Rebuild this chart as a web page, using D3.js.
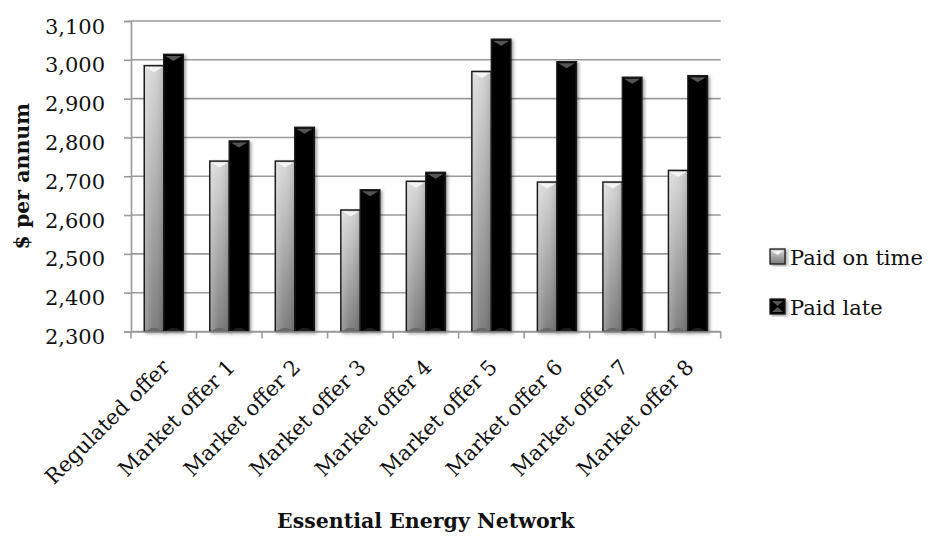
<!DOCTYPE html>
<html><head><meta charset="utf-8">
<script src="https://cdn.jsdelivr.net/npm/d3@7"></script>
<style>body{margin:0;background:#fff}svg{display:block}</style>
</head><body>
<svg id="chart" width="936" height="536"></svg>
<script>
const categories = ["Regulated offer","Market offer 1","Market offer 2","Market offer 3","Market offer 4","Market offer 5","Market offer 6","Market offer 7","Market offer 8"];
const seriesNames = ["Paid on time","Paid late"];
const paidOnTime = [2985, 2739, 2739, 2613, 2687, 2970, 2685, 2685, 2715];
const paidLate = [3014, 2791, 2826, 2665, 2710, 3053, 2995, 2955, 2959];
const yTicks = [2300,2400,2500,2600,2700,2800,2900,3000,3100];

(function(){
const svg = d3.select("#chart");
const FONT = "'DejaVu Serif', serif";
const pLeft = 131, pRight = 720.7, pTop = 21, pBottom = 331.5;
const x = d3.scaleBand().domain(categories).range([pLeft, pRight]).padding(0);
const y = d3.scaleLinear().domain([2300, 3100]).range([pBottom, pTop]);
const barW = 19.5;

const defs = svg.append("defs");
const f = defs.append("filter").attr("id","shadow").attr("x","-30%").attr("y","-10%").attr("width","160%").attr("height","130%");
f.append("feDropShadow").attr("dx",2).attr("dy",1.5).attr("stdDeviation",1.5).attr("flood-color","#000").attr("flood-opacity",0.35);
const gv = defs.append("linearGradient").attr("id","gOn").attr("x1",0).attr("y1",0).attr("x2",0).attr("y2",1);
gv.append("stop").attr("offset","0%").attr("stop-color","#d8d8d8");
gv.append("stop").attr("offset","100%").attr("stop-color","#7a7a7a");
const gh = defs.append("linearGradient").attr("id","gOnH").attr("x1",0).attr("y1",0).attr("x2",1).attr("y2",0);
gh.append("stop").attr("offset","0%").attr("stop-color","#fff").attr("stop-opacity",0.25);
gh.append("stop").attr("offset","45%").attr("stop-color","#fff").attr("stop-opacity",0.05);
gh.append("stop").attr("offset","100%").attr("stop-color","#000").attr("stop-opacity",0.12);

// gridlines
svg.append("g").selectAll("line").data(yTicks).join("line")
  .attr("x1", pLeft).attr("x2", pRight).attr("y1", d=>y(d)).attr("y2", d=>y(d))
  .attr("stroke","#9a9a9a").attr("stroke-width",1.6);

// y axis
const yAxis = svg.append("g").attr("transform",`translate(${pLeft},0)`)
  .call(d3.axisLeft(y).tickValues(yTicks).tickSize(7).tickPadding(0).tickFormat(d3.format(",")));
yAxis.select(".domain").attr("stroke","#9a9a9a").attr("stroke-width",1.6);
yAxis.selectAll(".tick line").attr("stroke","#9a9a9a").attr("stroke-width",1.6);
yAxis.selectAll(".tick text").attr("font-family",FONT).attr("font-size",21).attr("fill","#111")
  .attr("x",-26).attr("dy",null).attr("y",12).attr("text-anchor","end");

// bars
const data = categories.map((c,i)=>({c, v:[paidOnTime[i], paidLate[i]]}));
const groups = svg.append("g").selectAll("g").data(data).join("g")
  .attr("transform", d=>`translate(${x(d.c) + x.bandwidth()/2 - barW},0)`);
groups.each(function(d){
  const g = d3.select(this);
  d.v.forEach((v,k)=>{
    const bx = k*barW, by = y(v), h = pBottom - y(v);
    const bg = g.append("g");
    bg.append("rect").attr("x",bx).attr("y",by).attr("width",barW).attr("height",h)
      .attr("fill", k===0 ? "url(#gOn)" : "#000").attr("stroke","#1a1a1a").attr("stroke-width",1.5)
      .attr("filter","url(#shadow)");
    if(k===0){
      bg.append("rect").attr("x",bx+0.75).attr("y",by+0.75).attr("width",barW-1.5).attr("height",h-1.5).attr("fill","url(#gOnH)");
    }
    bg.append("path")
      .attr("d",`M${bx+1.5},${by+1.5}L${bx+barW-1.5},${by+1.5}L${bx+barW/2},${by+6.5}Z`)
      .attr("fill", k===0 ? "#f4f4f4" : "#555");
    bg.append("path")
      .attr("d",`M${bx+2},${pBottom-0.5}Q${bx+barW/2},${pBottom-7} ${bx+barW-2},${pBottom-0.5}Z`)
      .attr("fill", k===0 ? "#6a6a6a" : "#1e1e1e");
  });
});

// x axis
const xAxis = svg.append("g").attr("transform",`translate(0,${pBottom})`)
  .call(d3.axisBottom(x).tickSize(0).tickFormat(""));
xAxis.select(".domain").attr("stroke","#9a9a9a").attr("stroke-width",1.6);
const bounds = categories.map(c=>x(c)).concat([x(categories[categories.length-1]) + x.bandwidth()]);
svg.append("g").selectAll("line").data(bounds).join("line")
  .attr("x1",d=>d).attr("x2",d=>d).attr("y1",pBottom).attr("y2",pBottom+7)
  .attr("stroke","#9a9a9a").attr("stroke-width",1.6);
svg.append("g").selectAll("text").data(categories).join("text")
  .attr("transform", d=>`translate(${x(d)+x.bandwidth()/2+7},${pBottom+37}) rotate(-45)`)
  .attr("text-anchor","end").attr("font-family",FONT).attr("font-size",21).attr("fill","#111")
  .text(d=>d);

// axis titles
svg.append("text").attr("transform",`translate(29,${(pTop+pBottom)/2}) rotate(-90)`)
  .attr("text-anchor","middle").attr("font-family",FONT).attr("font-weight","bold").attr("font-size",20.5).attr("fill","#111")
  .text("$ per annum");
svg.append("text").attr("x",(pLeft+pRight)/2).attr("y",528)
  .attr("text-anchor","middle").attr("font-family",FONT).attr("font-weight","bold").attr("font-size",20.5).attr("fill","#111")
  .text("Essential Energy Network");

// legend
const leg = svg.append("g").selectAll("g").data(seriesNames).join("g")
  .attr("transform",(d,i)=>`translate(770,${249 + i*50})`);
leg.each(function(d,i){
  const g = d3.select(this);
  g.append("rect").attr("width",15).attr("height",15).attr("fill", i===0 ? "url(#gOn)" : "#000")
    .attr("stroke","#1a1a1a").attr("stroke-width",1.3).attr("filter","url(#shadow)");
  if(i===0){
    g.append("path").attr("d","M2,2L13,2L7.5,6Z").attr("fill","#f4f4f4");
  } else {
    g.append("path").attr("d","M2,2L13,2L7.5,7Z").attr("fill","#555");
    g.append("path").attr("d","M2,13L13,13L7.5,8Z").attr("fill","#555");
  }
  g.append("text").attr("x",20).attr("y",16).attr("font-family",FONT).attr("font-size",21).attr("fill","#111").text(d);
});
})();
</script>
</body></html>
